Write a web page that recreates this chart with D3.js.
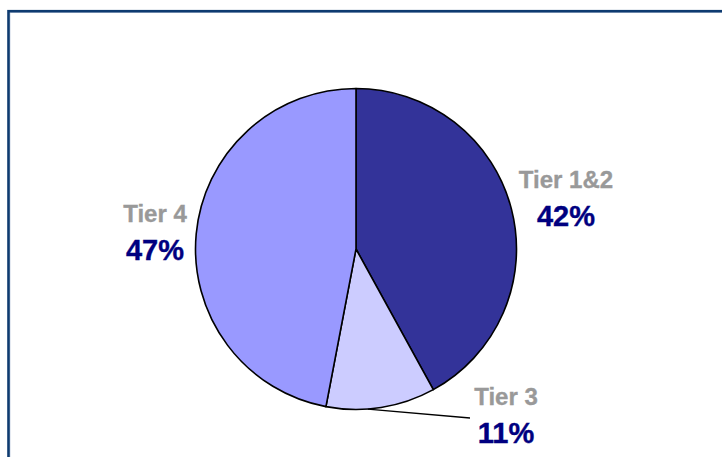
<!DOCTYPE html>
<html>
<head>
<meta charset="utf-8">
<script src="https://cdn.jsdelivr.net/npm/d3@7"></script>
<style>
  body { margin: 0; background: #fff; }
  svg { display: block; }
  text { font-family: "Liberation Sans", Arial, sans-serif; font-weight: bold; }
</style>
</head>
<body>
<div class="PieChart"></div>
<script>
// data
const tiers = ["Tier 1&2", "Tier 3", "Tier 4"]
const shares = [42, 11, 47]
const colors = ["#333399", "#ccccff", "#9999ff"]

// where each label sits (x centre, baseline of name)
const labelPos = [[566, 188], [506, 405], [155, 222]]

const width = 722
const height = 457
const cx = 356, cy = 249, r = 160.5

const svg = d3.select(".PieChart").append("svg")
    .attr("width", width)
    .attr("height", height)
    .attr("viewBox", [0, 0, width, height])

// frame round the chart (runs off right and bottom)
svg.append("rect")
    .attr("x", 10).attr("y", 12.5)
    .attr("width", 760).attr("height", 500)
    .attr("fill", "none")
    .attr("stroke", "#c9d3e3")
    .attr("stroke-width", 1)
svg.append("rect")
    .attr("x", 8.5).attr("y", 11.2)
    .attr("width", 760).attr("height", 500)
    .attr("fill", "none")
    .attr("stroke", "#0e3b70")
    .attr("stroke-width", 2.6)

const pie = d3.pie().sort(null).value(d => d)
const arcs = pie(shares)
const arc = d3.arc().innerRadius(0).outerRadius(r)

const g = svg.append("g").attr("transform", `translate(${cx},${cy})`)

g.selectAll("path")
  .data(arcs)
  .join("path")
    .attr("d", arc)
    .attr("fill", (d, i) => colors[i])
    .attr("stroke", "#000")
    .attr("stroke-width", 1.6)
    .attr("stroke-linejoin", "round")

// leader line for the small slice
const t3 = arcs[1]
const a = t3.startAngle + (t3.endAngle - t3.startAngle) * 0.62
const p0 = d3.pointRadial(a, r)
svg.append("line")
    .attr("x1", cx + p0[0]).attr("y1", cy + p0[1])
    .attr("x2", 470).attr("y2", 418)
    .attr("stroke", "#000")
    .attr("stroke-width", 1.3)

const labels = svg.append("g")
    .selectAll("g")
    .data(tiers)
    .join("g")
      .attr("transform", (d, i) => `translate(${labelPos[i][0]},${labelPos[i][1]})`)

labels.append("text")
    .attr("text-anchor", "middle")
    .attr("fill", "#999999")
    .attr("stroke", "#999999")
    .attr("stroke-width", 0.35)
    .attr("font-size", 24)
    .text(d => d)

labels.append("text")
    .attr("text-anchor", "middle")
    .attr("y", 38)
    .attr("fill", "#000080")
    .attr("stroke", "#000080")
    .attr("stroke-width", 0.4)
    .attr("font-size", 29)
    .text((d, i) => shares[i] + "%")
</script>
</body>
</html>
